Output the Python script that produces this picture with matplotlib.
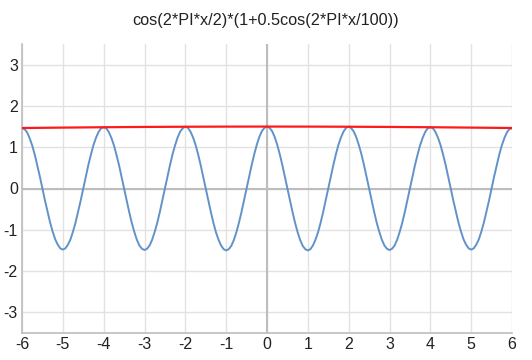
import numpy as np
import matplotlib
matplotlib.use("Agg")
from matplotlib import pyplot as plt

plt.rcParams['font.family'] = ['Liberation Sans', 'DejaVu Sans']
plt.rcParams['axes.unicode_minus'] = False

# curve read every 1/16 from 0 to 6 (it is symmetric about x=0)
x_right = [i / 16 for i in range(0, 97)]
y_right = [1.50, 1.47, 1.39, 1.25, 1.06, 0.83, 0.57, 0.29, 0,
           -0.29, -0.57, -0.83, -1.06, -1.25, -1.39, -1.47, -1.50,
           -1.47, -1.38, -1.24, -1.06, -0.83, -0.57, -0.29, 0,
           0.29, 0.57, 0.83, 1.06, 1.24, 1.38, 1.47, 1.50,
           1.46, 1.38, 1.24, 1.05, 0.83, 0.57, 0.29, 0,
           -0.29, -0.57, -0.83, -1.05, -1.24, -1.38, -1.46, -1.49,
           -1.46, -1.38, -1.24, -1.05, -0.83, -0.57, -0.29, 0,
           0.29, 0.57, 0.82, 1.05, 1.23, 1.37, 1.46, 1.48,
           1.46, 1.37, 1.23, 1.05, 0.82, 0.57, 0.29, 0,
           -0.29, -0.56, -0.82, -1.04, -1.23, -1.36, -1.45, -1.48,
           -1.45, -1.36, -1.23, -1.04, -0.82, -0.56, -0.29, 0,
           0.29, 0.56, 0.82, 1.04, 1.22, 1.36, 1.44, 1.46]
x_wave = [-v for v in x_right[:0:-1]] + x_right
y_wave = y_right[:0:-1] + y_right

# envelope (red line)
x_env = [-6, -5, -4, -3, -2, -1, 0, 1, 2, 3, 4, 5, 6]
y_env = [1.465, 1.475, 1.484, 1.491, 1.496, 1.499, 1.5, 1.499, 1.496, 1.491, 1.484, 1.475, 1.465]

title = "cos(2*PI*x/2)*(1+0.5cos(2*PI*x/100))"
xticks = list(range(-6, 7))
yticks = [-3, -2, -1, 0, 1, 2, 3]

fig = plt.figure(figsize=(5.32, 3.6), dpi=100)
ax = fig.add_axes([22 / 532, 27 / 360, 490 / 532, 289 / 360])

ax.set_xlim(-6, 6)
ax.set_ylim(-3.5, 3.5)
ax.set_xticks(xticks)
ax.set_yticks(yticks)
ax.grid(True, color='#e2e2e2', linewidth=1)
ax.set_axisbelow(True)
ax.axhline(0, color='#bdbdbd', linewidth=1.5, zorder=1)
ax.axvline(0, color='#bdbdbd', linewidth=1.5, zorder=1)

for s in ['top', 'right']:
    ax.spines[s].set_visible(False)
for s in ['left', 'bottom']:
    ax.spines[s].set_color('#bdbdbd')
    ax.spines[s].set_linewidth(1.2)

ax.tick_params(length=0, labelsize=11.5, pad=3, colors='#222222')

ax.plot(x_wave, y_wave, color='#6193c8', linewidth=1.4, zorder=3)
ax.plot(x_env, y_env, color='#ff1a1a', linewidth=1.6, zorder=4)

fig.text(0.5, 1 - 21 / 360, title, ha='center', va='center', fontsize=11.7, color='#222222')

fig.savefig("out.png", dpi=100)
